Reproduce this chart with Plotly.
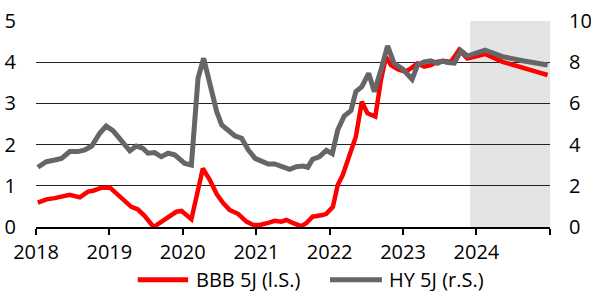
import plotly.graph_objects as go

# BBB 5J (left axis)
bbb_dates = ["2018-01-10","2018-02-22","2018-04-04","2018-05-08","2018-06-18","2018-08-07","2018-09-17","2018-10-12","2018-11-21",
             "2019-01-03","2019-02-13","2019-03-18","2019-04-20","2019-05-22","2019-06-25","2019-08-09","2019-09-16","2019-10-20","2019-11-30","2019-12-26",
             "2020-01-11","2020-02-13","2020-03-17","2020-04-10","2020-05-15","2020-06-18","2020-07-20","2020-08-22","2020-10-02","2020-11-13","2020-12-17",
             "2021-01-19","2021-03-01","2021-04-02","2021-05-05","2021-05-30","2021-07-01","2021-08-12","2021-09-06","2021-10-08","2021-11-27","2021-12-15",
             "2022-01-17","2022-02-10","2022-03-07","2022-04-08","2022-05-11","2022-06-10","2022-07-08","2022-08-16","2022-09-13","2022-10-08","2022-11-02","2022-12-05",
             "2023-01-12","2023-02-09","2023-03-14","2023-04-16","2023-05-19","2023-06-21","2023-07-24","2023-08-27","2023-10-07","2023-11-17",
             "2024-02-13","2024-05-10","2024-08-18","2024-10-23","2024-12-20"]
bbb_values = [0.59,0.67,0.70,0.74,0.78,0.72,0.86,0.88,0.95,
              0.96,0.78,0.66,0.49,0.43,0.27,0.00,0.13,0.23,0.37,0.39,
              0.33,0.19,0.90,1.42,1.14,0.80,0.58,0.41,0.32,0.13,0.05,
              0.05,0.10,0.15,0.13,0.17,0.10,0.02,0.09,0.25,0.29,0.32,
              0.49,1.02,1.26,1.71,2.19,3.04,2.76,2.68,3.57,4.13,3.93,3.83,
              3.77,3.85,3.97,3.89,3.93,4.01,4.03,4.01,4.30,4.09,
              4.20,4.01,3.88,3.77,3.69]

# HY 5J (right axis)
hy_dates = ["2018-01-10","2018-02-22","2018-04-04","2018-05-08","2018-06-18","2018-07-29","2018-09-01","2018-10-05","2018-11-14","2018-12-16",
            "2019-01-19","2019-03-03","2019-04-13","2019-05-15","2019-06-17","2019-07-12","2019-08-14","2019-09-16","2019-10-20","2019-11-22","2019-12-26",
            "2020-01-11","2020-02-13","2020-03-17","2020-04-14","2020-05-15","2020-06-18","2020-07-13","2020-08-15","2020-09-17","2020-10-20","2020-11-22","2020-12-26",
            "2021-01-27","2021-03-01","2021-04-02","2021-05-05","2021-06-16","2021-07-19","2021-08-21","2021-09-14","2021-10-08","2021-11-10","2021-12-15",
            "2022-01-14","2022-02-10","2022-03-14","2022-04-17","2022-05-11","2022-06-10","2022-07-14","2022-08-11","2022-09-13","2022-10-16","2022-11-17","2022-12-31",
            "2023-02-15","2023-03-14","2023-04-16","2023-05-19","2023-06-21","2023-07-16","2023-08-10","2023-09-13","2023-10-16","2023-11-17",
            "2024-02-13","2024-05-10","2024-08-18","2024-10-23","2024-12-20"]
hy_values = [2.90,3.17,3.25,3.33,3.66,3.66,3.74,3.93,4.55,4.90,
             4.68,4.19,3.70,3.93,3.82,3.58,3.61,3.41,3.58,3.50,3.25,
             3.09,3.01,7.22,8.19,6.98,5.60,4.95,4.71,4.42,4.31,3.74,3.33,
             3.17,3.06,3.06,2.93,2.80,2.93,2.96,2.90,3.29,3.41,3.72,
             3.56,4.71,5.39,5.65,6.57,6.81,7.46,6.57,7.62,8.79,7.95,7.66,
             7.17,7.86,8.02,8.07,7.95,8.06,7.98,7.95,8.56,8.30,
             8.59,8.27,8.07,7.95,7.86]

year_ticks = ["2018-01-01","2019-01-01","2020-01-01","2021-01-01","2022-01-01","2023-01-01","2024-01-01","2025-01-01"]
year_labels = ["2018","2019","2020","2021","2022","2023","2024",""]
forecast_start = "2023-12-01"
forecast_end = "2025-01-01"

FONT = "Open Sans"
RED = "#ff0000"
GREY = "#666666"

fig = go.Figure()
fig.add_trace(go.Scatter(x=bbb_dates, y=bbb_values, mode="lines", name="BBB 5J (l.S.)",
                         line=dict(color=RED, width=4.5), yaxis="y", showlegend=False))
fig.add_trace(go.Scatter(x=hy_dates, y=hy_values, mode="lines", name="HY 5J (r.S.)",
                         line=dict(color=GREY, width=5), yaxis="y2", showlegend=False))

fig.add_shape(type="rect", xref="x", yref="paper", x0=forecast_start, x1=forecast_end, y0=0, y1=1,
              fillcolor="#e4e4e4", line=dict(width=0), layer="below")

# legend drawn manually
LEG_Y = -0.256
fig.add_shape(type="line", xref="paper", yref="paper", x0=0.198, x1=0.296, y0=LEG_Y, y1=LEG_Y,
              line=dict(color=RED, width=5))
fig.add_annotation(xref="paper", yref="paper", x=0.307, y=LEG_Y, text="BBB 5J (l.S.)", showarrow=False,
                   xanchor="left", yanchor="middle", font=dict(family=FONT, size=20, color="#000"))
fig.add_shape(type="line", xref="paper", yref="paper", x0=0.572, x1=0.673, y0=LEG_Y, y1=LEG_Y,
              line=dict(color=GREY, width=5))
fig.add_annotation(xref="paper", yref="paper", x=0.683, y=LEG_Y, text="HY 5J (r.S.)", showarrow=False,
                   xanchor="left", yanchor="middle", font=dict(family=FONT, size=20, color="#000"))

fig.update_layout(
    width=591, height=291,
    margin=dict(l=36, r=41, t=21, b=64),
    paper_bgcolor="white", plot_bgcolor="white",
    font=dict(family=FONT, size=20, color="#000"),
    showlegend=False,
    xaxis=dict(type="date", range=["2018-01-01", "2025-01-01"], tickvals=year_ticks, ticktext=year_labels,
               showgrid=False, showline=True, linecolor="#000", linewidth=2, automargin=False,
               ticks="outside", ticklen=6, tickwidth=2, tickcolor="#000", zeroline=False,
               ticklabeloverflow="allow"),
    yaxis=dict(range=[0, 5], dtick=1, showgrid=True, gridcolor="#222", gridwidth=1, automargin=False,
               zeroline=False, showline=False, ticks="", ticklabelstandoff=19, ticklabeloverflow="allow"),
    yaxis2=dict(range=[0, 10], dtick=2, overlaying="y", side="right", showgrid=False, automargin=False,
                zeroline=False, showline=False, ticks="", ticklabelstandoff=18, ticklabeloverflow="allow"),
)

fig.write_html("out.html", config={"displayModeBar": False},
               post_script="document.body.style.margin='0';")
